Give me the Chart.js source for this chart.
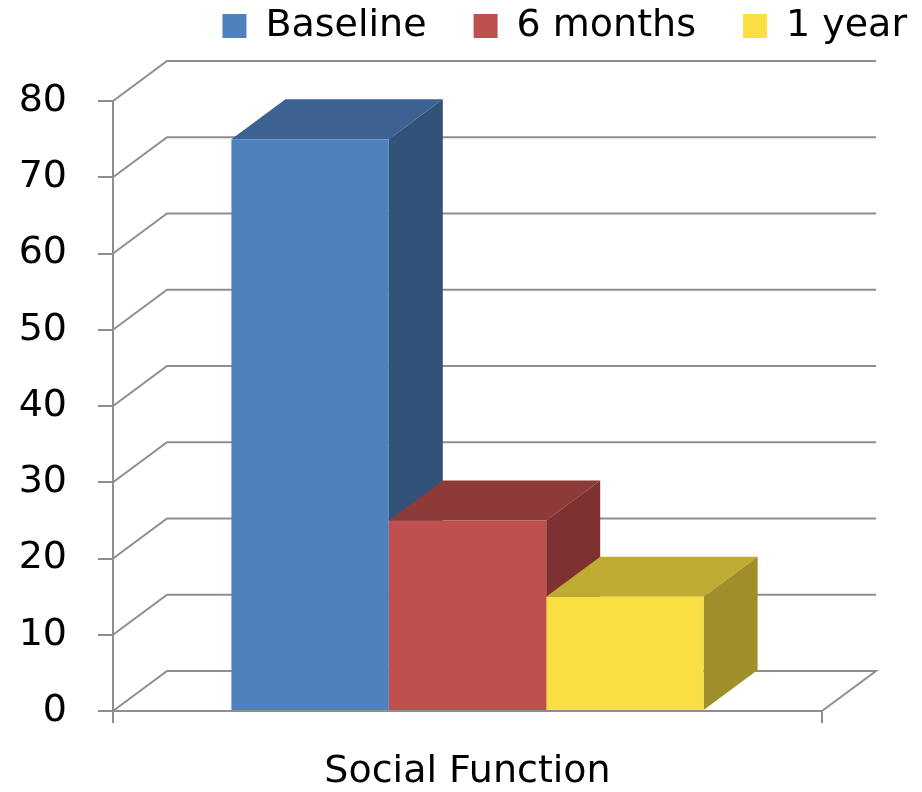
<!DOCTYPE html>
<html>
<head>
<meta charset="utf-8">
<script src="https://cdn.jsdelivr.net/npm/chart.js@4"></script>
<style>
  html, body { margin: 0; padding: 0; background: #fff; }
  #wrap { width: 922px; height: 792px; }
</style>
</head>
<body>
<div id="wrap"><canvas id="social_function"></canvas></div>
<script>
// data
var categories = ['Social Function'];
var seriesNames = ['Baseline', '6 months', '1 year'];
var baseline = [75];
var sixMonths = [25];
var oneYear = [15];
var yTicks = [0, 10, 20, 30, 40, 50, 60, 70, 80];

// front / top / side shades of each series
var frontColors = ['#4F81BD', '#C0504D', '#F9DF41'];
var topColors = ['#3C6291', '#8E3A38', '#BFAB34'];
var sideColors = ['#32527A', '#7E3130', '#9F8E2A'];
var gridColor = '#8E8E8E';
var depth = { x: 54, y: -40 };

// move the legend up into the top strip and to the right edge
var legendPlace = {
    id: 'legendPlace',
    beforeInit: function (chart) {
        var fit = chart.legend.fit;
        chart.legend.fit = function () {
            fit.call(this);
            this.height = 101;
        };
    },
    afterLayout: function (chart) {
        var lg = chart.legend;
        lg.top = -40;
        lg.right = 954;
    }
};

function poly(ctx, pts, color) {
    ctx.beginPath();
    ctx.moveTo(pts[0][0], pts[0][1]);
    for (var k = 1; k < pts.length; k++) ctx.lineTo(pts[k][0], pts[k][1]);
    ctx.closePath();
    ctx.fillStyle = color;
    ctx.fill();
}

// back wall grid, floor and the top/side faces of each column
var threeD = {
    id: 'threeD',
    beforeDatasetsDraw: function (chart) {
        var ctx = chart.ctx, a = chart.chartArea, ys = chart.scales.y;
        ctx.save();
        ctx.strokeStyle = gridColor;
        ctx.lineWidth = 2;
        ys.ticks.forEach(function (t) {
            var py = ys.getPixelForValue(t.value);
            ctx.beginPath();
            ctx.moveTo(a.left, py);
            ctx.lineTo(a.left + depth.x, py + depth.y);
            ctx.lineTo(a.right + depth.x, py + depth.y);
            if (t.value === 0) ctx.lineTo(a.right, py);
            ctx.stroke();
        });
        chart.data.datasets.forEach(function (ds, i) {
            chart.getDatasetMeta(i).data.forEach(function (bar) {
                var p = bar.getProps(['x', 'y', 'base', 'width'], true);
                var l = p.x - p.width / 2, r = p.x + p.width / 2;
                poly(ctx, [[l, p.y], [l + depth.x, p.y + depth.y], [r + depth.x, p.y + depth.y], [r, p.y]], topColors[i]);
                poly(ctx, [[r, p.y], [r + depth.x, p.y + depth.y], [r + depth.x, p.base + depth.y], [r, p.base]], sideColors[i]);
            });
        });
        ctx.restore();
    }
};

var font = { family: 'DejaVu Sans', size: 38 };

var myChart = new Chart(
    document.getElementById('social_function'),
    config = {
        type: 'bar',
        data: {
            labels: categories,
            datasets: [
                { label: seriesNames[0], data: baseline, backgroundColor: frontColors[0] },
                { label: seriesNames[1], data: sixMonths, backgroundColor: frontColors[1] },
                { label: seriesNames[2], data: oneYear, backgroundColor: frontColors[2] },
            ]
        },
        options: {
            responsive: true,
            maintainAspectRatio: false,
            animation: false,
            events: [],
            layout: { padding: { left: 0, right: 100, top: 0, bottom: 0 } },
            datasets: {
                bar: { categoryPercentage: 0.666, barPercentage: 1, borderWidth: 0 }
            },
            scales: {
                x: {
                    grid: { drawOnChartArea: false, drawTicks: true, tickLength: 12, color: gridColor, lineWidth: 2 },
                    border: { display: true, color: gridColor, width: 2 },
                    ticks: { font: font, color: '#000', padding: 26 },
                    afterFit: function (scale) { scale.height = 81; }
                },
                y: {
                    min: 0,
                    max: 80,
                    afterBuildTicks: function (scale) {
                        scale.ticks = yTicks.map(function (v) { return { value: v }; });
                    },
                    grid: { drawOnChartArea: false, drawTicks: true, tickLength: 15, color: gridColor, lineWidth: 2 },
                    border: { display: true, color: gridColor, width: 2 },
                    ticks: { font: font, color: '#000', padding: 31 },
                    afterFit: function (scale) { scale.width = 113; }
                }
            },
            plugins: {
                legend: {
                    position: 'top',
                    align: 'end',
                    labels: {
                        font: font,
                        color: '#000',
                        boxWidth: 24,
                        boxHeight: 24,
                        padding: 47
                    }
                },
                tooltip: { enabled: false }
            }
        },
        plugins: [legendPlace, threeD]
    });
</script>
</body>
</html>
